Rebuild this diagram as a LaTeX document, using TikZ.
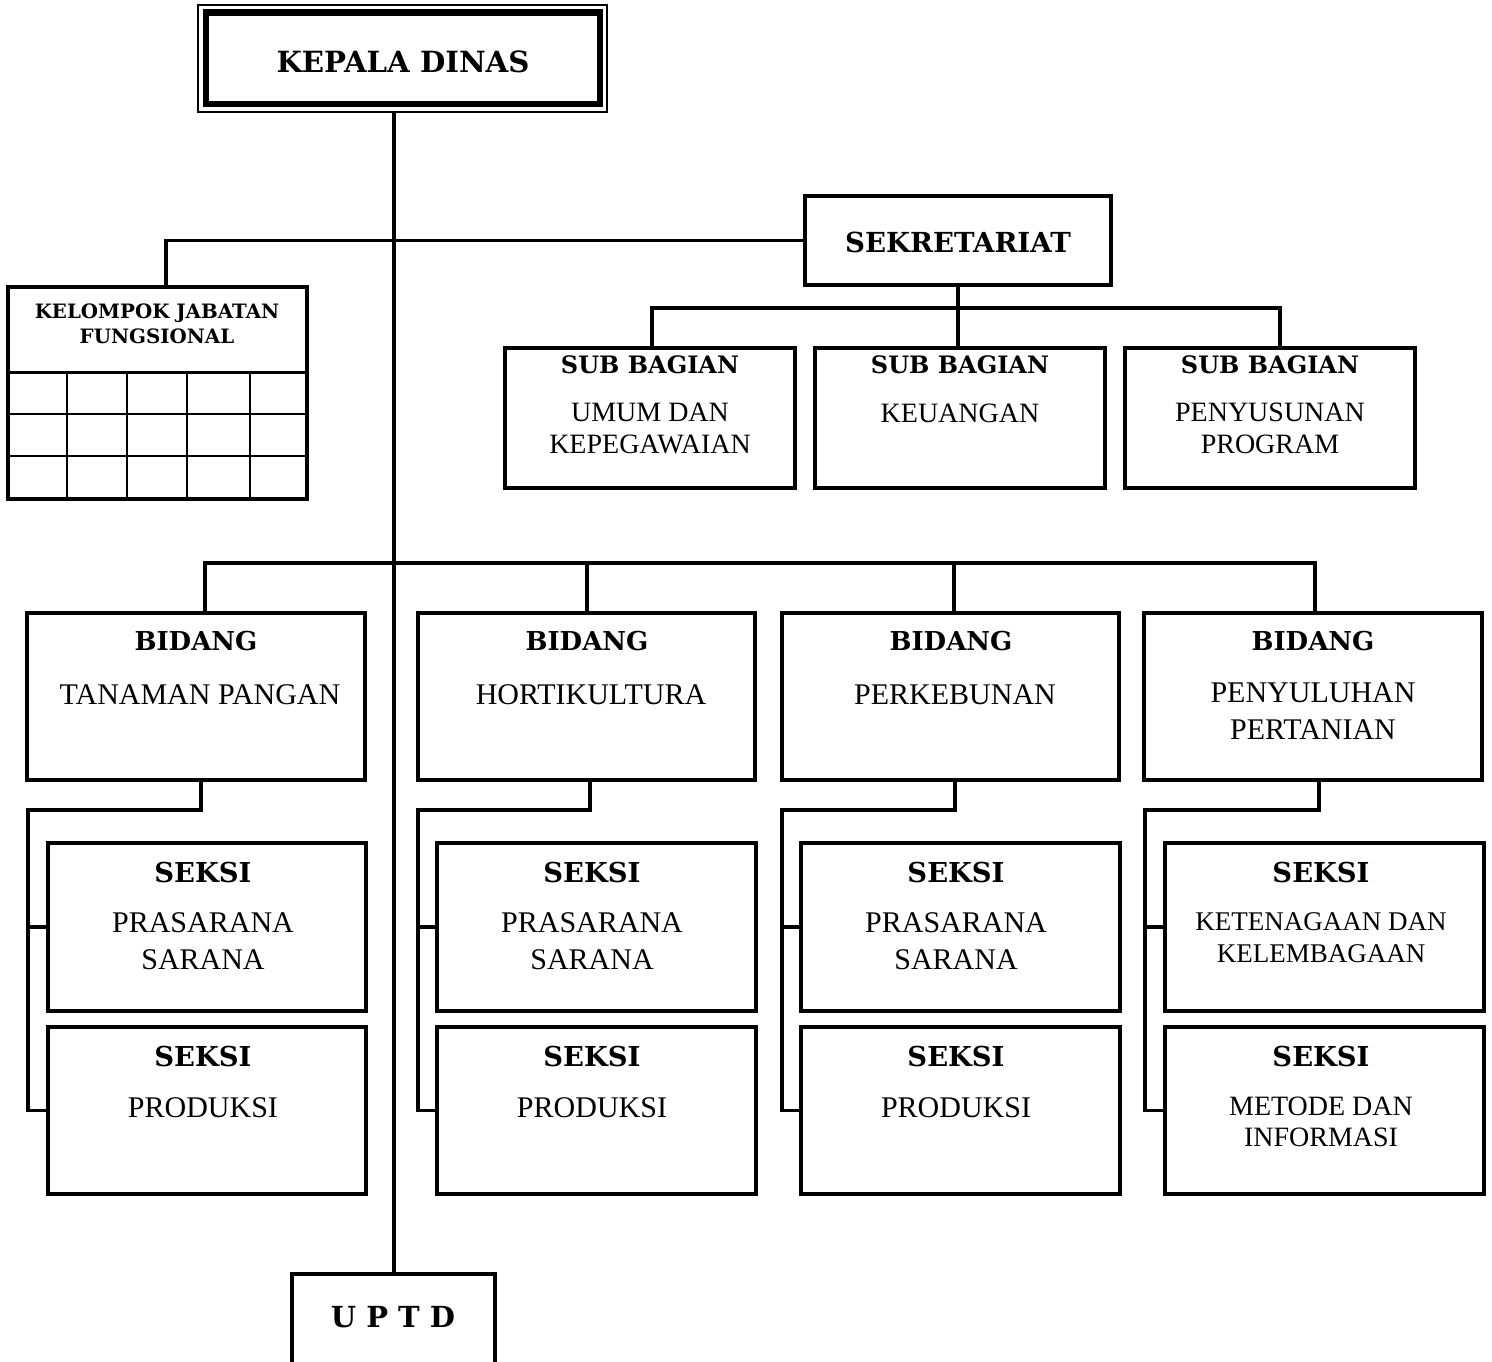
\documentclass[tikz,border=0pt]{standalone}
\usepackage{fontspec}
\setmainfont{Liberation Serif}
\newfontfamily\hdfont{DejaVu Serif}
\usetikzlibrary{fit}
\tikzset{
  box/.style={draw, line width=1.8pt, inner sep=0pt},
  conn/.style={line width=1.6pt},
  mainline/.style={line width=2pt},
  thinline/.style={line width=0.9pt},
  hd/.style={inner sep=0pt, font=\hdfont\bfseries\fontsize{#1}{#1}\selectfont},
  bd/.style={inner sep=0pt, align=center, font=\fontsize{#1}{18.5}\selectfont},
  sbd/.style={inner sep=0pt, align=center, font=\fontsize{14}{16}\selectfont},
}
\begin{document}
\begin{tikzpicture}[x=0.5pt,y=-0.5pt]
\useasboundingbox (0,0) rectangle (1492,1361);
% Kepala Dinas
\node[draw, line width=0.8pt, inner sep=0pt, fit={(198,5) (607,112)}] (kepalaouter) {};
\node[draw, line width=3.2pt, inner sep=0pt, fit={(206,12.5) (600,104)}] (kepala) {};
\node[hd=14.6] (tkepala) at (403,62) {KEPALA DINAS};
% UPTD
\node[box, fit={(292,1274) (495,1370)}] (uptd) {};
\node[hd=14.5] (tuptd) at (393,1317) {U P T D};
% Sekretariat
\node[box, fit={(805,196) (1111,285)}] (sek) {};
\node[hd=13.8] (tsek) at (958,242) {SEKRETARIAT};
% KJF
\node[box, fit={(8,287) (307,499)}] (kjf) {};
\node[inner sep=0pt, align=center, font=\hdfont\bfseries\fontsize{9.9}{12.5}\selectfont] (tkjf) at (157,323.5) {KELOMPOK JABATAN\\FUNGSIONAL};
\draw[line width=1.5pt] (kjf.west |- 0,372) -- (kjf.east |- 0,372);
\foreach \yy in {414,456}{\draw[thinline] (kjf.west |- 0,\yy) -- (kjf.east |- 0,\yy);}
\foreach \xx in {67,127,187,250}{\draw[thinline] (\xx,372) -- (\xx,499);}
% Sub bagian
\node[box, fit={(505,348) (795,488)}] (sb1) {};
\node[box, fit={(815,348) (1105,488)}] (sb2) {};
\node[box, fit={(1125,348) (1415,488)}] (sb3) {};
\node[hd=12] (tsb1) at (650,365) {SUB BAGIAN};
\node[hd=12] (tsb2) at (960,365) {SUB BAGIAN};
\node[hd=12] (tsb3) at (1270,365) {SUB BAGIAN};
\node[sbd] (bsb1) at (650,428) {UMUM DAN\\KEPEGAWAIAN};
\node[sbd] (bsb2) at (960,413) {KEUANGAN};
\node[sbd] (bsb3) at (1270,428) {PENYUSUNAN\\PROGRAM};
% Bidang
\node[box, fit={(27,613) (365,780)}] (b1) {};
\node[box, fit={(418,613) (755,780)}] (b2) {};
\node[box, fit={(782,613) (1119,780)}] (b3) {};
\node[box, fit={(1144,613) (1482,780)}] (b4) {};
\node[hd=13] (tb1) at (196,641) {BIDANG};
\node[hd=13] (tb2) at (587,641) {BIDANG};
\node[hd=13] (tb3) at (951,641) {BIDANG};
\node[hd=13] (tb4) at (1313,641) {BIDANG};
\node[bd=15] (bb1) at (200,695) {TANAMAN PANGAN};
\node[bd=15] (bb2) at (591,695) {HORTIKULTURA};
\node[bd=15] (bb3) at (955,695) {PERKEBUNAN};
\node[bd=15] (bb4) at (1313,711) {PENYULUHAN\\PERTANIAN};
% Seksi
\node[box, fit={(48,843) (366,1011)}] (s11) {};
\node[box, fit={(48,1027) (366,1194)}] (s12) {};
\node[box, fit={(437,843) (756,1011)}] (s21) {};
\node[box, fit={(437,1027) (756,1194)}] (s22) {};
\node[box, fit={(801,843) (1120,1011)}] (s31) {};
\node[box, fit={(801,1027) (1120,1194)}] (s32) {};
\node[box, fit={(1165,843) (1484,1011)}] (s41) {};
\node[box, fit={(1165,1027) (1484,1194)}] (s42) {};
\foreach \c/\xx in {1/203,2/592,3/956,4/1321}{
  \node[hd=13.7] (ts\c1) at (\xx,873) {SEKSI};
  \node[hd=13.7] (ts\c2) at (\xx,1057) {SEKSI};
}
\foreach \c/\xx in {1/203,2/592,3/956}{
  \node[bd=15] (bs\c1) at (\xx,941.5) {PRASARANA\\SARANA};
  \node[bd=15] (bs\c2) at (\xx,1108) {PRODUKSI};
}
\node[inner sep=0pt, align=center, font=\fontsize{13.5}{16}\selectfont] (bs41) at (1321,938) {KETENAGAAN DAN\\KELEMBAGAAN};
\node[inner sep=0pt, align=center, font=\fontsize{14}{15.5}\selectfont] (bs42) at (1321,1121.5) {METODE DAN\\INFORMASI};
% connectors
\draw[mainline] (kepalaouter.south -| uptd.north) -- (uptd.north);
\coordinate (kjfin) at (166,287);
\draw[conn] (sek.west) -| (kjfin);
\coordinate (sbus) at (958,308);
\coordinate (sb1in) at (652,348);
\coordinate (sb3in) at (1280,348);
\draw[conn] (sek.south) -- (sbus);
\draw[conn] (sb1in) |- (sbus) -| (sb3in);
\draw[conn] (sbus) -- (sb2.north -| sbus);
\coordinate (bbus) at (393,563);
\coordinate (b1in) at (205,613);
\coordinate (b2in) at (587,613);
\coordinate (b3in) at (954,613);
\coordinate (b4in) at (1315,613);
\draw[conn] (b1in) |- (bbus) -| (b4in);
\draw[conn] (b2in) -- (b2in |- bbus);
\draw[conn] (b3in) -- (b3in |- bbus);
\foreach \c/\bx/\kx in {1/201/28,2/590/418,3/955/782,4/1319/1145}{
  \coordinate (bo\c) at (\bx,780);
  \coordinate (k\c) at (\kx,810);
  \draw[conn] (bo\c) |- (k\c) |- (s\c2.west);
  \draw[conn] (k\c |- s\c1.west) -- (s\c1.west);
}
\end{tikzpicture}
\end{document}
